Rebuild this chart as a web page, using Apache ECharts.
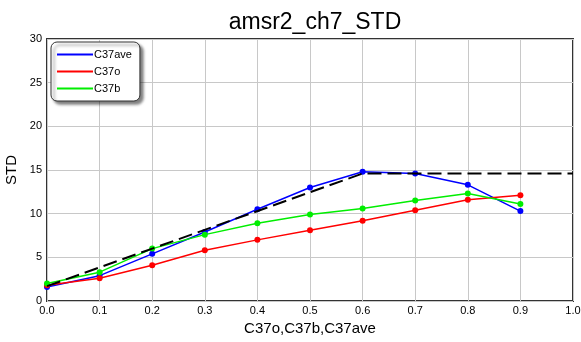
<!DOCTYPE html>
<html><head><meta charset="utf-8">
<script src="https://cdn.jsdelivr.net/npm/echarts@6/dist/echarts.min.js"></script>
<style>html,body{margin:0;padding:0;background:#fff}#c{width:581px;height:342px}</style>
</head><body><div id="c"></div>
<script>
const xs = [0.0,0.1,0.2,0.3,0.4,0.5,0.6,0.7,0.8,0.9];
const c37ave = [1.6,2.9,5.4,7.9,10.5,13.0,14.8,14.6,13.3,10.3];
const c37o   = [1.8,2.6,4.1,5.8,7.0,8.1,9.2,10.4,11.6,12.1];
const c37b   = [2.0,3.3,6.0,7.6,8.9,9.9,10.6,11.5,12.3,11.1];
const refX = [0.0,0.6,1.0];
const refY = [1.7,14.6,14.6];
const pair = (a,b)=>a.map((v,i)=>[v,b[i]]);
const font = 'Liberation Sans, Arial, sans-serif';
const chart = echarts.init(document.getElementById('c'), null, {renderer:'canvas'});
function line(name, data, color){
  return {name, type:'line', data:pair(xs,data), symbol:'circle', symbolSize:6,
    lineStyle:{color, width:1.5}, itemStyle:{color}, z:3};
}
chart.setOption({
  animation:false,
  title:{text:'amsr2_ch7_STD', left:310, top:6, textAlign:'center',
    textStyle:{fontFamily:font, fontWeight:'normal', fontSize:23, color:'#000'}},
  grid:{left:47, right:8, top:39, bottom:41, show:true, borderColor:'#333', borderWidth:2,
    backgroundColor:'transparent', outerBoundsMode:'none', containLabel:false},
  legend:{left:51, top:42, orient:'vertical', itemWidth:36, itemHeight:2, itemGap:6,
    data:['C37ave','C37o','C37b'], icon:'rect',
    padding:[7,8,7,6], backgroundColor:'#fff', borderColor:'#333', borderWidth:1, borderRadius:6,
    shadowBlur:3, shadowColor:'rgba(0,0,0,0.5)', shadowOffsetX:3, shadowOffsetY:3,
    textStyle:{fontFamily:font, fontSize:11, color:'#000', padding:[0,0,0,-4]}},
  xAxis:{type:'value', min:0, max:1, interval:0.1, name:'C37o,C37b,C37ave', nameLocation:'middle', nameGap:20,
    nameTextStyle:{fontFamily:font, fontSize:15, color:'#000'},
    axisLine:{show:false}, axisTick:{show:false},
    axisLabel:{fontFamily:font, fontSize:11, color:'#000', margin:4, formatter:v=>v.toFixed(1)},
    splitLine:{show:true, lineStyle:{color:'#c8c8c8', width:1}}},
  yAxis:{type:'value', min:0, max:30, interval:5, name:'STD', nameLocation:'middle', nameGap:27,
    nameTextStyle:{fontFamily:font, fontSize:15, color:'#000'},
    axisLine:{show:false}, axisTick:{show:false},
    axisLabel:{fontFamily:font, fontSize:11, color:'#000', margin:5},
    splitLine:{show:true, lineStyle:{color:'#c8c8c8', width:1}}},
  series:[
    {name:'ref', type:'line', data:pair(refX,refY), symbol:'none', silent:true,
      lineStyle:{color:'#000', width:2, type:[14,6]}, z:4},
    line('C37ave', c37ave, '#0000ff'),
    line('C37o', c37o, '#ff0000'),
    line('C37b', c37b, '#00ee00')
  ]
});
</script></body></html>
